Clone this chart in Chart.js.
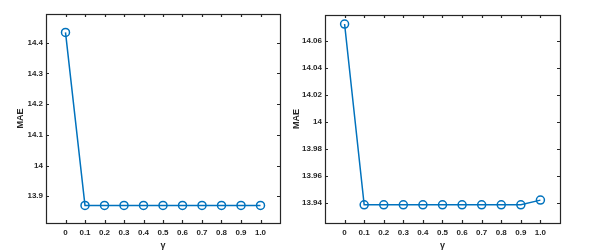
<!DOCTYPE html>
<html>
<head>
<meta charset="utf-8">
<script src="https://cdn.jsdelivr.net/npm/chart.js@4.4.1/dist/chart.umd.min.js"></script>
<style>
  body { margin: 0; background: #fff; }
  #wrap { position: relative; width: 604px; height: 251px; }
  canvas { position: absolute; top: 0; }
</style>
</head>
<body>
<div id="wrap">
  <canvas id="left" width="290" height="251" style="left:0"></canvas>
  <canvas id="right" width="318" height="251" style="left:286px"></canvas>
</div>
<script>
// gamma values on the x axis
const gammas = [0, 0.1, 0.2, 0.3, 0.4, 0.5, 0.6, 0.7, 0.8, 0.9, 1.0];
const gammaLabels = ['0', '0.1', '0.2', '0.3', '0.4', '0.5', '0.6', '0.7', '0.8', '0.9', '1.0'];

// MAE
const maeLeft = [14.433, 13.870, 13.870, 13.870, 13.870, 13.870, 13.870, 13.870, 13.870, 13.870, 13.870];
const maeRight = [14.0728, 13.9385, 13.9385, 13.9385, 13.9385, 13.9385, 13.9385, 13.9385, 13.9385, 13.9385, 13.942];

const leftYTicks = [13.9, 14.0, 14.1, 14.2, 14.3, 14.4];
const leftYLabels = ['13.9', '14', '14.1', '14.2', '14.3', '14.4'];
const rightYTicks = [13.94, 13.96, 13.98, 14.0, 14.02, 14.04, 14.06];
const rightYLabels = ['13.94', '13.96', '13.98', '14', '14.02', '14.04', '14.06'];

const ink = '#262626';
const blue = '#0072BD';
const tickFont = { family: 'Liberation Sans, Arial', size: 8, weight: 'bold' };
const titleFont = { family: 'Liberation Sans, Arial', size: 9, weight: 'bold' };

// box around the plot and inward tick marks on all four sides
const frame = {
    id: 'frame',
    afterDraw(chart) {
        const { ctx, chartArea: a, scales: { x, y } } = chart;
        ctx.save();
        ctx.strokeStyle = ink;
        ctx.lineWidth = 1.2;
        ctx.strokeRect(a.left + 0.5, a.top + 0.5, a.right - a.left, a.bottom - a.top);
        ctx.beginPath();
        x.ticks.forEach(t => {
            const px = Math.round(x.getPixelForValue(t.value)) + 0.5;
            ctx.moveTo(px, a.bottom); ctx.lineTo(px, a.bottom - 3);
            ctx.moveTo(px, a.top); ctx.lineTo(px, a.top + 3);
        });
        y.ticks.forEach(t => {
            const py = Math.round(y.getPixelForValue(t.value)) + 0.5;
            ctx.moveTo(a.left, py); ctx.lineTo(a.left + 3, py);
            ctx.moveTo(a.right, py); ctx.lineTo(a.right - 3, py);
        });
        ctx.stroke();
        ctx.restore();
    }
};

function makeChart(id, values, yTicks, yLabels, yMin, yMax, pad, yWidth, titlePad) {
    return new Chart(document.getElementById(id), {
        type: 'line',
        data: {
            datasets: [{
                data: gammas.map((g, i) => ({ x: g, y: values[i] })),
                borderColor: blue,
                borderWidth: 1.5,
                pointRadius: 4,
                pointBorderWidth: 1.5,
                pointBackgroundColor: 'rgba(0,0,0,0)',
                pointBorderColor: blue,
                tension: 0
            }]
        },
        options: {
            responsive: false,
            animation: false,
            devicePixelRatio: 1,
            layout: { padding: pad },
            plugins: { legend: { display: false }, tooltip: { enabled: false } },
            scales: {
                x: {
                    type: 'linear',
                    min: -0.1,
                    max: 1.1,
                    grid: { display: false, drawTicks: false },
                    border: { display: false },
                    afterBuildTicks: s => { s.ticks = gammas.map(v => ({ value: v })); },
                    afterFit: s => { s.height = 28; },
                    ticks: {
                        color: ink,
                        font: tickFont,
                        padding: 5,
                        maxRotation: 0,
                        autoSkip: false,
                        callback: (v, i) => gammaLabels[i]
                    },
                    title: { display: true, text: 'γ', color: ink, font: titleFont, padding: { top: 2, bottom: 0 } }
                },
                y: {
                    min: yMin,
                    max: yMax,
                    grid: { display: false, drawTicks: false },
                    border: { display: false },
                    afterBuildTicks: s => { s.ticks = yTicks.map(v => ({ value: v })); },
                    afterFit: s => { s.width = yWidth; },
                    ticks: {
                        color: ink,
                        font: tickFont,
                        padding: 3,
                        autoSkip: false,
                        callback: (v, i) => yLabels[i]
                    },
                    title: { display: true, text: 'MAE', color: ink, font: titleFont, padding: { top: titlePad, bottom: 0 } }
                }
            }
        },
        plugins: [frame]
    });
}

makeChart('left', maeLeft, leftYTicks, leftYLabels, 13.813, 14.493,
    { top: 14, right: 10, left: 0, bottom: 0 }, 46, 15);
makeChart('right', maeRight, rightYTicks, rightYLabels, 13.925, 14.0795,
    { top: 15, right: 44, left: 0, bottom: 0 }, 39, 5);
</script>
</body>
</html>
